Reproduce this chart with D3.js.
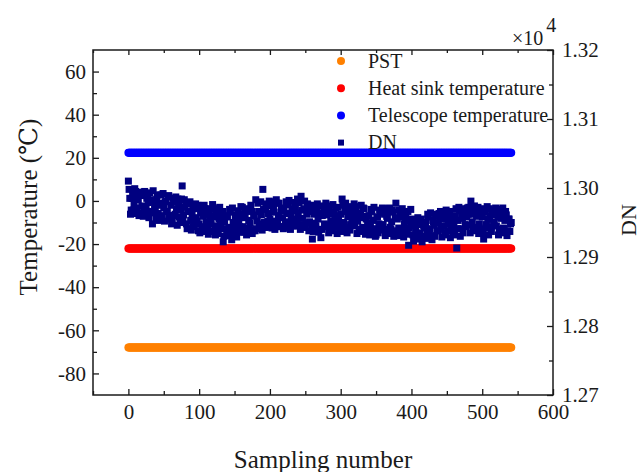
<!DOCTYPE html>
<html>
<head>
<meta charset="utf-8">
<script src="https://cdn.jsdelivr.net/npm/d3@7"></script>
<style>
  html, body { margin: 0; padding: 0; background: #fff; }
  svg { display: block; }
  svg text { font-family: "Liberation Serif", "DejaVu Serif", serif; }
</style>
</head>
<body>
<div id="chart"></div>
<script>
// sampling numbers for the temperature channels
const samples = d3.range(0, 542);
const seriesNames = ["PST", "Heat sink temperature", "Telescope temperature", "DN"];
const tempValues = [-68, -22, 22.3];

// DN: even samples
const dnEvenSamples = d3.range(0, 541, 2);
const dnEven = [
  13010, 12985, 12968, 12992, 12976, 12995, 12971, 12983, 12964, 12989,
  12990, 12972, 12961, 12985, 12979, 12993, 12966, 12948, 12981, 12970,
  12984, 12963, 12975, 12990, 12958, 12971, 12980, 12966, 12987, 12960,
  12975, 12955, 12980, 12962, 12970, 12984, 12958, 12968, 13003, 12961,
  12972, 12948, 12966, 12977, 12953, 12962, 12944, 12970, 12957, 12975,
  12948, 12964, 12940, 12959, 12970, 12951, 12943, 12962, 12954, 12937,
  12960, 12945, 12966, 12938, 12955, 12949, 12963, 12922, 12951, 12941,
  12958, 12943, 12965, 12925, 12950, 12940, 12961, 12947, 12954, 12936,
  12962, 12944, 12957, 12968, 12940, 12953, 12949, 12966, 12938, 12959,
  12983, 12952, 12966, 12945, 12961, 12998, 12950, 12970, 12943, 12963,
  12955, 12974, 12946, 12965, 12952, 12978, 12960, 12944, 12969, 12957,
  12971, 12948, 12963, 12976, 12950, 12958, 12967, 12945, 12973, 12955,
  12964, 12947, 12988, 12956, 12970, 12943, 12962, 12975, 12951, 12966,
  12926, 12962, 12949, 12971, 12955, 12940, 12928, 12960, 12968, 12946,
  12961, 12944, 12970, 12952, 12939, 12965, 12957, 12948, 12972, 12950,
  12962, 12984, 12950, 12966, 12943, 12958, 12971, 12947, 12955, 12964,
  12945, 12968, 12952, 12940, 12963, 12957, 12971, 12942, 12955, 12949,
  12960, 12944, 12966, 12953, 12941, 12932, 12958, 12948, 12964, 12939,
  12947, 12962, 12940, 12956, 12968, 12943, 12951, 12965, 12938, 12978,
  12955, 12942, 12964, 12936, 12958, 12948, 12961, 12939, 12917, 12952,
  12945, 12932, 12951, 12938, 12928, 12947, 12935, 12955, 12930, 12942,
  12950, 12936, 12958, 12941, 12931, 12953, 12946, 12962, 12938, 12949,
  12957, 12940, 12963, 12945, 12934, 12955, 12948, 12966, 12939, 12951,
  12944, 12960, 12913, 12953, 12967, 12941, 12956, 12970, 12947, 12958,
  12962, 12946, 12981, 12951, 12968, 12940, 12959, 12972, 12948, 12965,
  12958, 12926, 12965, 12947, 12955, 12970, 12943, 12961, 12950, 12967,
  12945, 12960, 12940, 12956, 12966, 12942, 12953, 12961, 12938, 12955,
  12948
];

// DN: odd samples
const dnOddSamples = d3.range(1, 542, 2);
const dnOdd = [
  12998, 12962, 12985, 12968, 12999, 12963, 12989, 12960, 12994, 12974,
  12959, 12995, 12970, 12992, 12957, 12983, 12964, 12996, 12972, 12956,
  12990, 12953, 12978, 12960, 12992, 12952, 12981, 12966, 12989, 12955,
  12948, 12985, 12960, 12987, 12946, 12975, 12950, 12984, 12957, 12983,
  12978, 12941, 12966, 12980, 12939, 12972, 12945, 12977, 12952, 12938,
  12935, 12973, 12944, 12975, 12937, 12962, 12933, 12970, 12948, 12976,
  12970, 12932, 12958, 12934, 12972, 12941, 12966, 12930, 12960, 12937,
  12931, 12969, 12940, 12971, 12933, 12958, 12929, 12967, 12944, 12973,
  12972, 12936, 12963, 12932, 12970, 12942, 12975, 12934, 12961, 12938,
  12941, 12978, 12948, 12980, 12939, 12969, 12943, 12977, 12952, 12981,
  12980, 12942, 12970, 12940, 12983, 12950, 12978, 12944, 12967, 12941,
  12943, 12980, 12951, 12982, 12940, 12969, 12945, 12979, 12954, 12984,
  12979, 12940, 12968, 12943, 12981, 12949, 12977, 12938, 12966, 12945,
  12937, 12975, 12945, 12977, 12936, 12963, 12940, 12974, 12948, 12978,
  12974, 12935, 12962, 12938, 12976, 12944, 12971, 12934, 12960, 12940,
  12937, 12975, 12946, 12978, 12935, 12964, 12939, 12973, 12949, 12977,
  12973, 12934, 12961, 12937, 12975, 12943, 12970, 12933, 12959, 12939,
  12932, 12969, 12940, 12972, 12930, 12958, 12935, 12968, 12944, 12971,
  12970, 12931, 12959, 12934, 12971, 12940, 12968, 12930, 12957, 12936,
  12931, 12968, 12939, 12970, 12929, 12957, 12933, 12966, 12942, 12969,
  12955, 12923, 12947, 12926, 12957, 12930, 12953, 12922, 12946, 12928,
  12927, 12962, 12935, 12964, 12925, 12951, 12930, 12960, 12938, 12963,
  12966, 12929, 12955, 12932, 12968, 12938, 12963, 12928, 12954, 12934,
  12932, 12970, 12941, 12972, 12930, 12959, 12935, 12968, 12944, 12971,
  12972, 12935, 12962, 12938, 12974, 12943, 12969, 12934, 12960, 12940,
  12934, 12970, 12942, 12973, 12932, 12960, 12937, 12968, 12946, 12971,
  12969, 12932, 12958, 12935, 12971, 12941, 12966, 12931, 12955, 12937,
  12950
];

const xTicks = [0, 100, 200, 300, 400, 500, 600];
const xMinor = [-50, 50, 150, 250, 350, 450, 550];
const tempTicks = [-80, -60, -40, -20, 0, 20, 40, 60];
const tempMinor = [-70, -50, -30, -10, 10, 30, 50];
const dnTicks = [12700, 12800, 12900, 13000, 13100, 13200];
const dnMinor = [12750, 12850, 12950, 13050, 13150];

const colors = ["#ff8000", "#ff0000", "#0000ff", "#000080"];
const ink = "#1a1a1a";

const margin = {top: 50, right: 87, bottom: 77, left: 93},
    width = 640 - margin.left - margin.right,
    height = 472 - margin.top - margin.bottom;

const root = d3.select("#chart")
  .append("svg")
    .attr("width", 640)
    .attr("height", 472);

const svg = root.append("g")
    .attr("transform", `translate(${margin.left},${margin.top})`);

const x = d3.scaleLinear().domain([-50, 600]).range([0, width]);
const yT = d3.scaleLinear().domain([-90, 70]).range([height, 0]);
const yD = d3.scaleLinear().domain([12700, 13200]).range([height, 0]);

// style helper for axes
function styleAxis(g) {
  g.attr("font-family", null).attr("font-size", null);
  g.select(".domain").remove();
  g.selectAll("line").attr("stroke", ink).attr("stroke-width", 1.3);
  g.selectAll("text")
    .attr("fill", ink)
    .style("font-family", '"Liberation Serif", serif')
    .style("font-size", "21px");
}

// bottom axis
svg.append("g")
    .attr("transform", `translate(0,${height})`)
    .call(d3.axisBottom(x).tickValues(xTicks).tickSizeInner(-6).tickSizeOuter(0).tickPadding(9).tickFormat(d => String(d)))
    .call(styleAxis);
svg.append("g")
    .attr("transform", `translate(0,${height})`)
    .call(d3.axisBottom(x).tickValues(xMinor).tickSizeInner(-4).tickSizeOuter(0).tickFormat(""))
    .call(styleAxis);

// top axis, ticks only
svg.append("g")
    .call(d3.axisTop(x).tickValues(xTicks).tickSizeInner(-5).tickSizeOuter(0).tickFormat(""))
    .call(styleAxis);
svg.append("g")
    .call(d3.axisTop(x).tickValues(xMinor).tickSizeInner(-3).tickSizeOuter(0).tickFormat(""))
    .call(styleAxis);

// left axis (temperature)
svg.append("g")
    .call(d3.axisLeft(yT).tickValues(tempTicks).tickSizeInner(-6).tickSizeOuter(0).tickPadding(7).tickFormat(d => String(d)))
    .call(styleAxis);
svg.append("g")
    .call(d3.axisLeft(yT).tickValues(tempMinor).tickSizeInner(-4).tickSizeOuter(0).tickFormat(""))
    .call(styleAxis);

// right axis (DN)
svg.append("g")
    .attr("transform", `translate(${width},0)`)
    .call(d3.axisRight(yD).tickValues(dnTicks).tickSizeInner(-6).tickSizeOuter(0).tickPadding(9).tickFormat(d => (d / 10000).toFixed(2)))
    .call(styleAxis);
svg.append("g")
    .attr("transform", `translate(${width},0)`)
    .call(d3.axisRight(yD).tickValues(dnMinor).tickSizeInner(-4).tickSizeOuter(0).tickFormat(""))
    .call(styleAxis);

// frame
svg.append("rect")
    .attr("width", width)
    .attr("height", height)
    .attr("fill", "none")
    .attr("stroke", ink)
    .attr("stroke-width", 1.5);

// temperature channels: thick runs of dots
tempValues.forEach((v, i) => {
  svg.append("g")
    .selectAll("circle")
    .data(samples)
    .join("circle")
      .attr("cx", d => x(d))
      .attr("cy", yT(v))
      .attr("r", 4)
      .attr("fill", colors[i]);
});

// DN scatter
function drawDN(sampleIdx, values) {
  svg.append("g")
    .selectAll("rect")
    .data(values)
    .join("rect")
      .attr("x", (d, i) => x(sampleIdx[i]) - 3.5)
      .attr("y", d => yD(d) - 3.5)
      .attr("width", 7)
      .attr("height", 7)
      .attr("fill", colors[3]);
}
drawDN(dnEvenSamples, dnEven);
drawDN(dnOddSamples, dnOdd);

// legend
const legend = root.append("g").attr("transform", "translate(341,61)");
seriesNames.forEach((name, i) => {
  const row = legend.append("g").attr("transform", `translate(0,${i * 27.2})`);
  if (i < 3) {
    row.append("circle").attr("r", 4).attr("fill", colors[i]);
  } else {
    row.append("rect").attr("x", -3).attr("y", -3).attr("width", 6).attr("height", 6).attr("fill", colors[i]);
  }
  row.append("text")
    .attr("x", 27)
    .attr("y", 6.5)
    .attr("fill", ink)
    .attr("font-size", "20px")
    .text(name);
});

// multiplier
root.append("text")
    .attr("x", 512)
    .attr("y", 45)
    .attr("fill", ink)
    .attr("font-size", "20px")
    .text("×10")
  .append("tspan")
    .attr("dx", 3)
    .attr("dy", -13)
    .text("4");

// axis titles
root.append("text")
    .attr("x", 323)
    .attr("y", 468)
    .attr("text-anchor", "middle")
    .attr("fill", ink)
    .attr("font-size", "25px")
    .text("Sampling number");

root.append("text")
    .attr("transform", "translate(37,207) rotate(-90)")
    .attr("text-anchor", "middle")
    .attr("fill", ink)
    .attr("font-size", "25px")
    .text("Temperature (℃)");

root.append("text")
    .attr("transform", "translate(636,220) rotate(-90)")
    .attr("text-anchor", "middle")
    .attr("fill", ink)
    .attr("font-size", "22px")
    .text("DN");
</script>
</body>
</html>
